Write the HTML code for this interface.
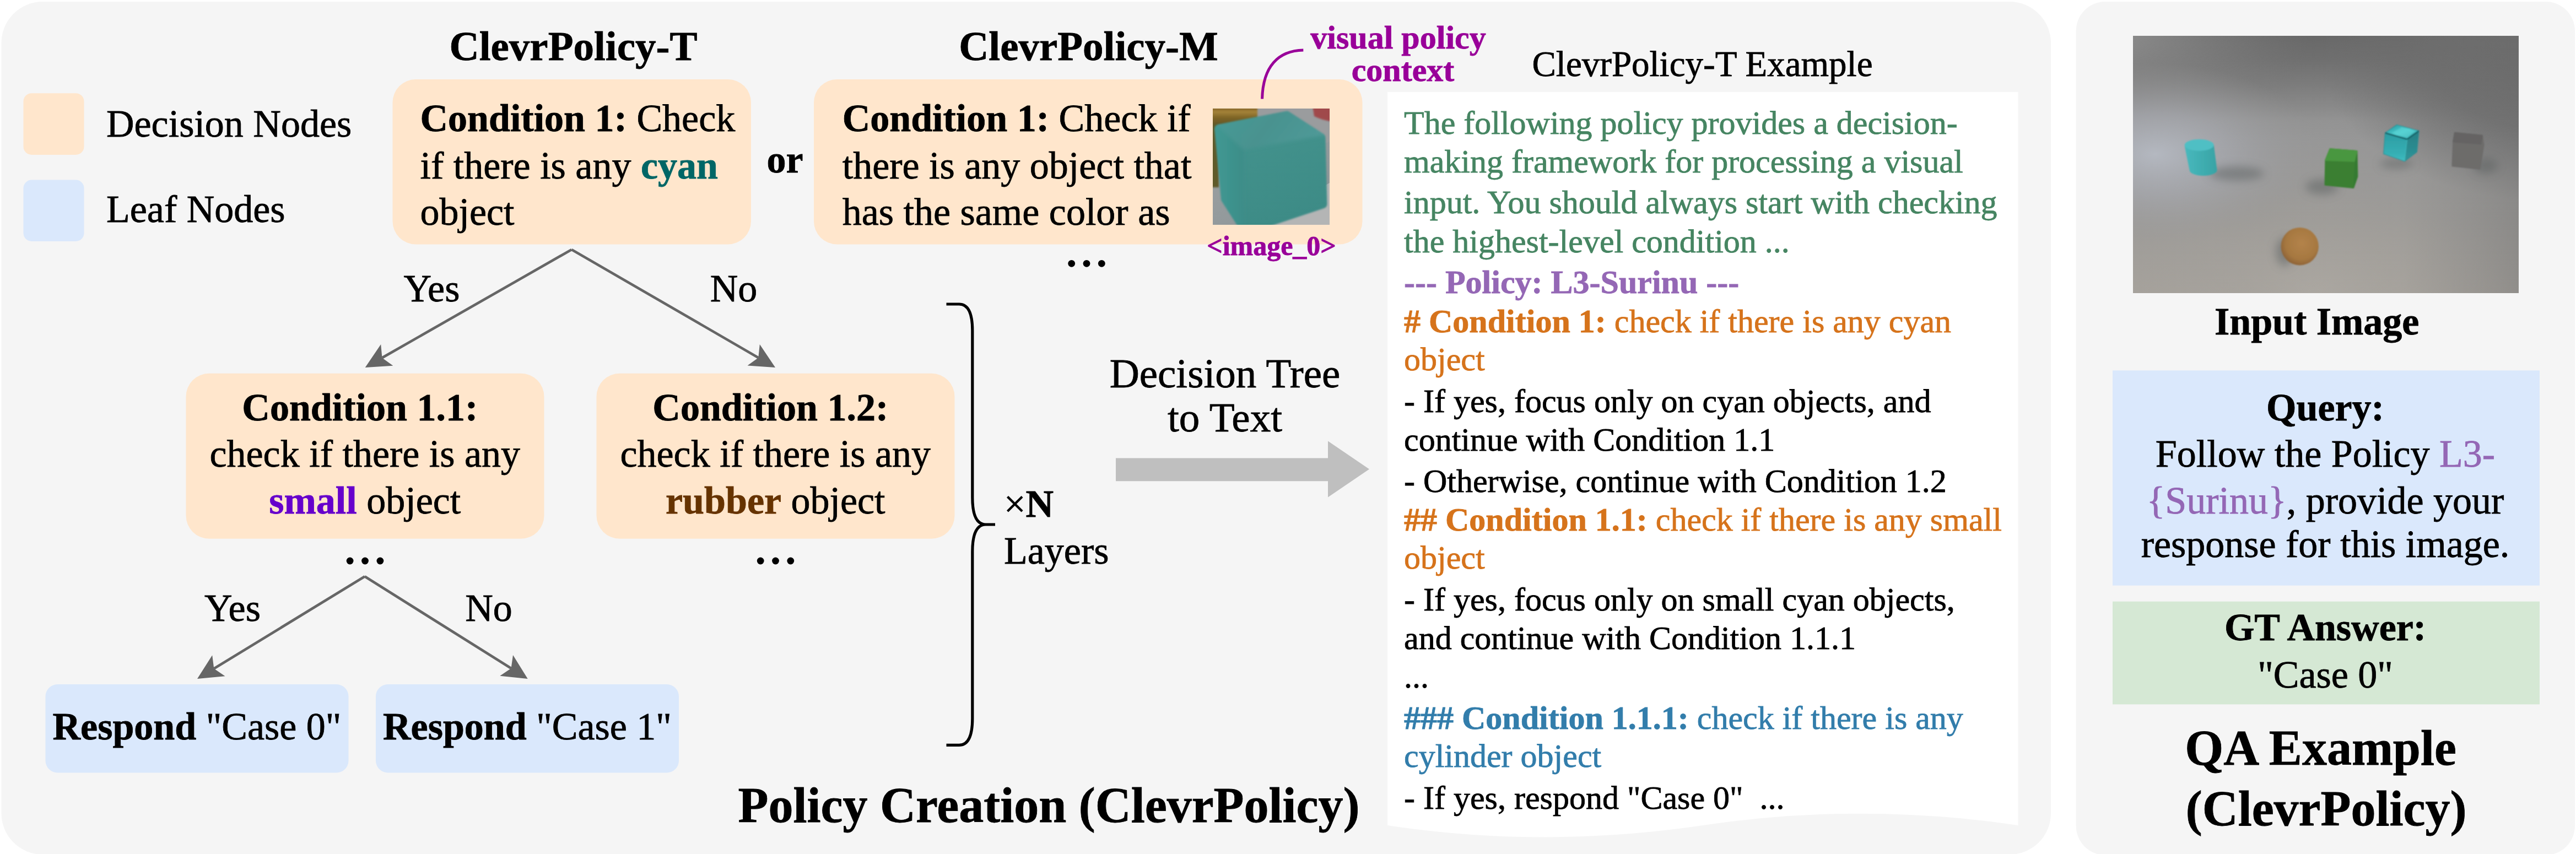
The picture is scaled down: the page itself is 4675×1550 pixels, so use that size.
<!DOCTYPE html>
<html><head><meta charset="utf-8"><title>ClevrPolicy</title>
<style>
html,body{margin:0;padding:0;background:#fff;}
body{width:4675px;height:1550px;overflow:hidden;}
svg{display:block;font-family:"Liberation Serif",serif;}
text{white-space:pre;}
</style></head><body>
<svg width="4675" height="1550" viewBox="0 0 4675 1550">
<rect x="2.5" y="3" width="3719.5" height="1548" rx="75" fill="#f5f5f5"/>
<rect x="3767.7" y="3" width="905.3" height="1549" rx="53" fill="#f5f5f5"/>
<rect x="42.5" y="169.2" width="110" height="111.7" rx="15" fill="#ffe6cc"/>
<rect x="42.5" y="326.6" width="110" height="111.3" rx="15" fill="#dae8fc"/>
<text x="193.0" y="247.8" font-size="70.00" text-anchor="start" fill="#000" stroke="#000" stroke-width="0.8" ><tspan>Decision Nodes</tspan></text>
<text x="193.0" y="403.0" font-size="70.00" text-anchor="start" fill="#000" stroke="#000" stroke-width="0.8" ><tspan>Leaf Nodes</tspan></text>
<text x="1040.5" y="108.5" font-size="75.00" text-anchor="middle" fill="#000" stroke="#000" stroke-width="0.8" ><tspan font-weight="bold">ClevrPolicy-T</tspan></text>
<text x="1975.5" y="108.5" font-size="75.00" text-anchor="middle" fill="#000" stroke="#000" stroke-width="0.8" ><tspan font-weight="bold">ClevrPolicy-M</tspan></text>
<rect x="712.5" y="144" width="650.5" height="299.5" rx="42" fill="#ffe6cc"/>
<text x="762.5" y="238.0" font-size="70.00" text-anchor="start" fill="#000" stroke="#000" stroke-width="0.8" ><tspan font-weight="bold">Condition 1: </tspan><tspan>Check</tspan></text>
<text x="762.5" y="324.0" font-size="70.00" text-anchor="start" fill="#000" stroke="#000" stroke-width="0.8" ><tspan>if there is any </tspan><tspan font-weight="bold" fill="#006666" stroke="#006666">cyan</tspan></text>
<text x="762.5" y="408.0" font-size="70.00" text-anchor="start" fill="#000" stroke="#000" stroke-width="0.8" ><tspan>object</tspan></text>
<text x="1424.5" y="313.0" font-size="70.00" text-anchor="middle" fill="#000" stroke="#000" stroke-width="0.8" ><tspan font-weight="bold">or</tspan></text>
<rect x="1477" y="144" width="995.5" height="299.5" rx="42" fill="#ffe6cc"/>
<text x="1528.7" y="238.0" font-size="70.00" text-anchor="start" fill="#000" stroke="#000" stroke-width="0.8" ><tspan font-weight="bold">Condition 1: </tspan><tspan>Check if</tspan></text>
<text x="1528.7" y="324.0" font-size="70.00" text-anchor="start" fill="#000" stroke="#000" stroke-width="0.8" ><tspan>there is any object that</tspan></text>
<text x="1528.7" y="408.0" font-size="70.00" text-anchor="start" fill="#000" stroke="#000" stroke-width="0.8" ><tspan>has the same color as</tspan></text>
<svg x="2201" y="197" width="212" height="211" viewBox="0 0 212 211" overflow="hidden">
<defs>
<filter id="cb1" x="-10%" y="-10%" width="120%" height="120%"><feGaussianBlur stdDeviation="1.4"/></filter><filter id="cb2" x="-10%" y="-10%" width="120%" height="120%"><feGaussianBlur stdDeviation="3"/></filter>
<linearGradient id="cfl" x1="0" y1="0" x2="1" y2="1"><stop offset="0" stop-color="#9da0a2"/><stop offset="1" stop-color="#8a9496"/></linearGradient>
<linearGradient id="ctop" x1="0" y1="0" x2="1" y2="0.3"><stop offset="0" stop-color="#46a09b"/><stop offset="0.6" stop-color="#48928f"/><stop offset="1" stop-color="#509a98"/></linearGradient>
<linearGradient id="cfr" x1="0" y1="0" x2="0.3" y2="1"><stop offset="0" stop-color="#45958f"/><stop offset="1" stop-color="#3d8b86"/></linearGradient>
<linearGradient id="clf" x1="0" y1="0" x2="1" y2="0"><stop offset="0" stop-color="#43a09a"/><stop offset="1" stop-color="#3c8d88"/></linearGradient>
<linearGradient id="gold" x1="0" y1="0" x2="0" y2="1"><stop offset="0" stop-color="#6b4f17"/><stop offset="0.3" stop-color="#a5833a"/><stop offset="0.6" stop-color="#7d6426"/><stop offset="1" stop-color="#5f5424"/></linearGradient>
</defs>
<rect width="212" height="211" fill="#9a9c9e"/>
<polygon points="0,140 212,60 212,211 0,211" fill="url(#cfl)"/>
<polygon points="70,211 212,135 212,211" fill="#b4b5b5"/>
<g filter="url(#cb1)">
<rect x="-5" y="-5" width="86" height="36" fill="url(#gold)"/>
<rect x="-5" y="28" width="16" height="115" fill="#5f5a2a"/>
<path d="M181 -5 H220 V24 Q200 22 184 14 Z" fill="#a0484b"/>
</g>
<mask id="cmask" maskUnits="userSpaceOnUse" x="-10" y="-10" width="240" height="240">
<polygon points="11.5,37 134,13 196,53 199,173 100,206 62,224 23.5,164" fill="#fff" stroke="#fff" stroke-width="17" stroke-linejoin="round" filter="url(#cb1)"/>
</mask>
<g mask="url(#cmask)">
<rect x="-10" y="-10" width="240" height="240" fill="url(#cfr)"/>
<g filter="url(#cb2)">
<polygon points="-30,-5 5.6,29.5 56,74.5 56,240 -30,240" fill="url(#clf)"/>
<polygon points="-30,-30 240,-30 240,41 205,47.8 56,74.5 5.6,29.5 -30,-5" fill="url(#ctop)"/>
</g>
</g>
</svg>
<text x="2307.5" y="462.8" font-size="50.00" text-anchor="middle" fill="#990099" stroke="#990099" stroke-width="0.8" ><tspan font-weight="bold">&lt;image_0&gt;</tspan></text>
<text x="2537.5" y="88.0" font-size="60.00" text-anchor="middle" fill="#990099" stroke="#990099" stroke-width="0.8" ><tspan font-weight="bold">visual policy</tspan></text>
<text x="2546.0" y="146.5" font-size="60.00" text-anchor="middle" fill="#990099" stroke="#990099" stroke-width="0.8" ><tspan font-weight="bold">context</tspan></text>
<path d="M2290.6 179.5 C2292 120 2320 92 2365.3 91" fill="none" stroke="#990099" stroke-width="5"/>
<circle cx="1944.7" cy="478.3" r="6.4" fill="#000"/>
<circle cx="1972.0" cy="478.3" r="6.4" fill="#000"/>
<circle cx="1999.3" cy="478.3" r="6.4" fill="#000"/>
<circle cx="635.1" cy="1018.0" r="6.4" fill="#000"/>
<circle cx="662.5" cy="1018.0" r="6.4" fill="#000"/>
<circle cx="689.9" cy="1018.0" r="6.4" fill="#000"/>
<circle cx="1380.2" cy="1018.0" r="6.4" fill="#000"/>
<circle cx="1407.5" cy="1018.0" r="6.4" fill="#000"/>
<circle cx="1434.8" cy="1018.0" r="6.4" fill="#000"/>
<line x1="1037.4" y1="453.0" x2="693.5" y2="649.4" stroke="#666666" stroke-width="4.7"/>
<path d="M662.7 667.0 L691.2 625.1 L693.5 649.4 L713.3 663.8 Z" fill="#666666"/>
<line x1="1037.4" y1="453.0" x2="1376.3" y2="649.2" stroke="#666666" stroke-width="4.7"/>
<path d="M1407.0 667.0 L1356.5 663.5 L1376.3 649.2 L1378.8 624.9 Z" fill="#666666"/>
<line x1="662.0" y1="1046.3" x2="388.3" y2="1213.5" stroke="#666666" stroke-width="4.7"/>
<path d="M358.0 1232.0 L385.2 1189.3 L388.3 1213.5 L408.5 1227.3 Z" fill="#666666"/>
<line x1="662.0" y1="1046.3" x2="927.6" y2="1213.1" stroke="#666666" stroke-width="4.7"/>
<path d="M957.7 1232.0 L907.3 1226.7 L927.6 1213.1 L931.0 1188.9 Z" fill="#666666"/>
<text x="783.5" y="547.0" font-size="70.00" text-anchor="middle" fill="#000" stroke="#000" stroke-width="0.8" ><tspan>Yes</tspan></text>
<text x="1331.5" y="547.0" font-size="70.00" text-anchor="middle" fill="#000" stroke="#000" stroke-width="0.8" ><tspan>No</tspan></text>
<text x="422.0" y="1127.0" font-size="70.00" text-anchor="middle" fill="#000" stroke="#000" stroke-width="0.8" ><tspan>Yes</tspan></text>
<text x="887.0" y="1127.0" font-size="70.00" text-anchor="middle" fill="#000" stroke="#000" stroke-width="0.8" ><tspan>No</tspan></text>
<rect x="337.5" y="677.8" width="650" height="300" rx="42" fill="#ffe6cc"/>
<rect x="1082.5" y="677.8" width="650" height="300" rx="42" fill="#ffe6cc"/>
<text x="653.3" y="762.5" font-size="70.00" text-anchor="middle" fill="#000" stroke="#000" stroke-width="0.8" ><tspan font-weight="bold">Condition 1.1:</tspan></text>
<text x="662.3" y="847.3" font-size="70.00" text-anchor="middle" fill="#000" stroke="#000" stroke-width="0.8" ><tspan>check if there is any</tspan></text>
<text x="662.3" y="932.3" font-size="70.00" text-anchor="middle" fill="#000" stroke="#000" stroke-width="0.8" ><tspan font-weight="bold" fill="#6600cc" stroke="#6600cc">small</tspan><tspan> object</tspan></text>
<text x="1398.3" y="762.5" font-size="70.00" text-anchor="middle" fill="#000" stroke="#000" stroke-width="0.8" ><tspan font-weight="bold">Condition 1.2:</tspan></text>
<text x="1407.3" y="847.3" font-size="70.00" text-anchor="middle" fill="#000" stroke="#000" stroke-width="0.8" ><tspan>check if there is any</tspan></text>
<text x="1407.3" y="932.3" font-size="70.00" text-anchor="middle" fill="#000" stroke="#000" stroke-width="0.8" ><tspan font-weight="bold" fill="#663300" stroke="#663300">rubber</tspan><tspan> object</tspan></text>
<rect x="82.5" y="1242" width="550" height="160.5" rx="22" fill="#dae8fc"/>
<rect x="682" y="1242" width="550" height="160.5" rx="22" fill="#dae8fc"/>
<text x="357.5" y="1342.0" font-size="70.00" text-anchor="middle" fill="#000" stroke="#000" stroke-width="0.8" ><tspan font-weight="bold">Respond </tspan><tspan>"Case 0"</tspan></text>
<text x="957.0" y="1342.0" font-size="70.00" text-anchor="middle" fill="#000" stroke="#000" stroke-width="0.8" ><tspan font-weight="bold">Respond </tspan><tspan>"Case 1"</tspan></text>
<path d="M1717.5 552 H1740.7 Q1764.8 552 1764.8 600 V903 Q1764.8 952 1789 952 H1806 M1789 952 Q1764.8 952 1764.8 1001 V1304 Q1764.8 1352.4 1740.7 1352.4 H1717.5" fill="none" stroke="#000" stroke-width="5.2"/>
<text x="1822.0" y="938.0" font-size="70.00" text-anchor="start" fill="#000" stroke="#000" stroke-width="0.8" ><tspan>×</tspan><tspan font-weight="bold">N</tspan></text>
<text x="1822.0" y="1022.5" font-size="70.00" text-anchor="start" fill="#000" stroke="#000" stroke-width="0.8" ><tspan>Layers</tspan></text>
<text x="2223.0" y="703.0" font-size="75.00" text-anchor="middle" fill="#000" stroke="#000" stroke-width="0.8" ><tspan>Decision Tree</tspan></text>
<text x="2223.0" y="783.0" font-size="75.00" text-anchor="middle" fill="#000" stroke="#000" stroke-width="0.8" ><tspan>to Text</tspan></text>
<path d="M2025 831.5 H2410 V800.5 L2485 851.5 L2410 902.5 V873.2 H2025 Z" fill="#bfbfbf"/>
<text x="1903.5" y="1492.0" font-size="90.00" text-anchor="middle" fill="#000" stroke="#000" stroke-width="0.8" ><tspan font-weight="bold">Policy Creation (ClevrPolicy)</tspan></text>
<text x="3089.5" y="138.0" font-size="65.00" text-anchor="middle" fill="#000" stroke="#000" stroke-width="0.8" ><tspan>ClevrPolicy-T Example</tspan></text>
<path d="M2518.0 167.0 H3662.5 V1498.0 Q3376.4 1455.3 3090.2 1498.0 Q2804.1 1540.8 2518.0 1498.0 Z" fill="#fff"/>
<text x="2548.0" y="243.0" font-size="60.00" text-anchor="start" fill="#468562" stroke="#468562" stroke-width="0.8" xml:space="preserve"><tspan>The following policy provides a decision-</tspan></text>
<text x="2548.0" y="313.2" font-size="60.00" text-anchor="start" fill="#468562" stroke="#468562" stroke-width="0.8" xml:space="preserve"><tspan>making framework for processing a visual</tspan></text>
<text x="2548.0" y="387.2" font-size="60.00" text-anchor="start" fill="#468562" stroke="#468562" stroke-width="0.8" xml:space="preserve"><tspan>input. You should always start with checking</tspan></text>
<text x="2548.0" y="457.8" font-size="60.00" text-anchor="start" fill="#468562" stroke="#468562" stroke-width="0.8" xml:space="preserve"><tspan>the highest-level condition ...</tspan></text>
<text x="2548.0" y="532.3" font-size="60.00" text-anchor="start" fill="#9467b5" stroke="#9467b5" stroke-width="0.8" xml:space="preserve"><tspan font-weight="bold">--- Policy: L3-Surinu ---</tspan></text>
<text x="2548.0" y="603.0" font-size="60.00" text-anchor="start" fill="#d6731b" stroke="#d6731b" stroke-width="0.8" xml:space="preserve"><tspan font-weight="bold"># Condition 1: </tspan><tspan>check if there is any cyan</tspan></text>
<text x="2548.0" y="672.2" font-size="60.00" text-anchor="start" fill="#d6731b" stroke="#d6731b" stroke-width="0.8" xml:space="preserve"><tspan>object</tspan></text>
<text x="2548.0" y="747.8" font-size="60.00" text-anchor="start" fill="#000" stroke="#000" stroke-width="0.8" xml:space="preserve"><tspan>- If yes, focus only on cyan objects, and</tspan></text>
<text x="2548.0" y="818.0" font-size="60.00" text-anchor="start" fill="#000" stroke="#000" stroke-width="0.8" xml:space="preserve"><tspan>continue with Condition 1.1</tspan></text>
<text x="2548.0" y="893.0" font-size="60.00" text-anchor="start" fill="#000" stroke="#000" stroke-width="0.8" xml:space="preserve"><tspan>- Otherwise, continue with Condition 1.2</tspan></text>
<text x="2548.0" y="962.8" font-size="60.00" text-anchor="start" fill="#d6731b" stroke="#d6731b" stroke-width="0.8" xml:space="preserve"><tspan font-weight="bold">## Condition 1.1: </tspan><tspan>check if there is any small</tspan></text>
<text x="2548.0" y="1032.2" font-size="60.00" text-anchor="start" fill="#d6731b" stroke="#d6731b" stroke-width="0.8" xml:space="preserve"><tspan>object</tspan></text>
<text x="2548.0" y="1107.5" font-size="60.00" text-anchor="start" fill="#000" stroke="#000" stroke-width="0.8" xml:space="preserve"><tspan>- If yes, focus only on small cyan objects,</tspan></text>
<text x="2548.0" y="1178.0" font-size="60.00" text-anchor="start" fill="#000" stroke="#000" stroke-width="0.8" xml:space="preserve"><tspan>and continue with Condition 1.1.1</tspan></text>
<text x="2548.0" y="1247.8" font-size="60.00" text-anchor="start" fill="#000" stroke="#000" stroke-width="0.8" xml:space="preserve"><tspan>...</tspan></text>
<text x="2548.0" y="1322.6" font-size="60.00" text-anchor="start" fill="#327dab" stroke="#327dab" stroke-width="0.8" xml:space="preserve"><tspan font-weight="bold">### Condition 1.1.1: </tspan><tspan>check if there is any</tspan></text>
<text x="2548.0" y="1392.0" font-size="60.00" text-anchor="start" fill="#327dab" stroke="#327dab" stroke-width="0.8" xml:space="preserve"><tspan>cylinder object</tspan></text>
<text x="2548.0" y="1467.8" font-size="60.00" text-anchor="start" fill="#000" stroke="#000" stroke-width="0.8" xml:space="preserve"><tspan>- If yes, respond "Case 0"  ...</tspan></text>
<svg x="3871" y="65" width="700" height="467" viewBox="0 0 700 467" overflow="hidden">
<defs>
<filter id="sb1" x="-20%" y="-20%" width="140%" height="140%"><feGaussianBlur stdDeviation="1.3"/></filter>
<filter id="sb2" x="-50%" y="-50%" width="200%" height="200%"><feGaussianBlur stdDeviation="8"/></filter>
<linearGradient id="bgv" x1="0" y1="0" x2="0" y2="1">
 <stop offset="0" stop-color="#686868"/><stop offset="0.09" stop-color="#6f6f6f"/><stop offset="0.19" stop-color="#7c7c7c"/><stop offset="0.28" stop-color="#8a8a8a"/><stop offset="0.33" stop-color="#939393"/><stop offset="0.41" stop-color="#979797"/><stop offset="0.72" stop-color="#9d9b98"/><stop offset="1" stop-color="#a6a29c"/></linearGradient>
<radialGradient id="tlite" cx="-40" cy="0" r="360" gradientUnits="userSpaceOnUse" gradientTransform="translate(-40 0) scale(1 0.5) translate(40 0)">
 <stop offset="0" stop-color="#8e8e8e" stop-opacity="1"/><stop offset="1" stop-color="#808080" stop-opacity="0"/></radialGradient>
<radialGradient id="rtdark" cx="760" cy="40" r="420" gradientUnits="userSpaceOnUse" gradientTransform="translate(760 40) scale(1 0.62) translate(-760 -40)">
 <stop offset="0" stop-color="#686868" stop-opacity="1"/><stop offset="0.5" stop-color="#6c6c6c" stop-opacity="0.85"/><stop offset="1" stop-color="#707070" stop-opacity="0"/></radialGradient>
<radialGradient id="lspot" cx="40" cy="215" r="300" gradientUnits="userSpaceOnUse" gradientTransform="translate(40 215) scale(1 0.55) translate(-40 -215)">
 <stop offset="0" stop-color="#b4b8c0" stop-opacity="1"/><stop offset="0.45" stop-color="#a6a8ae" stop-opacity="0.7"/><stop offset="1" stop-color="#999" stop-opacity="0"/></radialGradient>
<radialGradient id="bspot" cx="330" cy="470" r="330" gradientUnits="userSpaceOnUse" gradientTransform="translate(330 470) scale(1 0.6) translate(-330 -470)">
 <stop offset="0" stop-color="#aba7a1" stop-opacity="1"/><stop offset="1" stop-color="#a09d98" stop-opacity="0"/></radialGradient>
<linearGradient id="rdark" x1="0" y1="0" x2="1" y2="0"><stop offset="0.7" stop-color="#777" stop-opacity="0"/><stop offset="1" stop-color="#707070" stop-opacity="0.4"/></linearGradient>
<radialGradient id="sph" cx="0.55" cy="0.42" r="0.6"><stop offset="0" stop-color="#b3834a"/><stop offset="0.7" stop-color="#a67841"/><stop offset="1" stop-color="#8d6236"/></radialGradient>
<linearGradient id="cyl" x1="0" y1="0" x2="1" y2="0"><stop offset="0" stop-color="#48b9bd"/><stop offset="1" stop-color="#38a3a5"/></linearGradient>
<linearGradient id="mtop" x1="0" y1="0" x2="1" y2="1"><stop offset="0" stop-color="#1d8f96"/><stop offset="0.5" stop-color="#4fd0d2"/><stop offset="1" stop-color="#238f95"/></linearGradient>
<linearGradient id="mright" x1="0" y1="0" x2="0" y2="1"><stop offset="0" stop-color="#267f84"/><stop offset="1" stop-color="#2f9499"/></linearGradient>
<linearGradient id="mleft" x1="0" y1="0" x2="0" y2="1"><stop offset="0" stop-color="#2c9ca2"/><stop offset="0.75" stop-color="#36b0b5"/><stop offset="1" stop-color="#3fbcc0"/></linearGradient>
</defs>
<rect width="700" height="467" fill="url(#bgv)"/>
<rect width="700" height="467" fill="url(#tlite)"/>
<rect width="700" height="467" fill="url(#lspot)"/>
<rect width="700" height="467" fill="url(#bspot)"/>
<rect width="700" height="467" fill="url(#rtdark)"/>
<rect width="700" height="467" fill="url(#rdark)"/>
<!-- shadows -->
<g filter="url(#sb2)" fill="#5c6060" opacity="0.5">
<ellipse cx="188" cy="250" rx="50" ry="13"/>
<ellipse cx="343" cy="274" rx="30" ry="14"/>
<ellipse cx="478" cy="232" rx="30" ry="9"/>
<ellipse cx="640" cy="236" rx="22" ry="14"/>
<ellipse cx="275" cy="392" rx="16" ry="26"/>
</g>
<g filter="url(#sb1)">
<!-- cylinder -->
<path d="M93.7 200 L102.6 244 A25 10 0 0 0 152.6 244 L146.7 198 Z" fill="url(#cyl)"/>
<ellipse cx="120.2" cy="198.3" rx="26.5" ry="10.5" fill="#50bfc4"/>
<!-- green cube -->
<polygon points="357.8,205.8 406,209.4 406.9,255.4 399.9,275.6 349,270.3 349.9,225.5" fill="#3b7f33" stroke="#3b7f33" stroke-width="3" stroke-linejoin="round"/>
<polygon points="357.8,205.8 406,209.4 402.5,227.3 349.9,225.5" fill="#4a973f" stroke="#4a973f" stroke-width="3" stroke-linejoin="round"/>
<polygon points="402.5,229 406.5,212 406.9,255.4 399.9,275.6" fill="#357a30"/>
<!-- metal cyan cube -->
<polygon points="478.9,161.9 518.5,172.8 514.9,210.6 493,227.3 455.2,214.1 457.9,176.3" fill="#2b8d92" stroke="#2b8d92" stroke-width="2" stroke-linejoin="round"/>
<polygon points="457.9,176.3 497.4,187.8 493,227.3 455.2,214.1" fill="url(#mleft)"/>
<polygon points="497.4,187.8 518.5,172.8 514.9,210.6 493,227.3" fill="url(#mright)"/>
<polygon points="478.9,161.9 518.5,172.8 497.4,187.8 457.9,176.3" fill="url(#mtop)"/>
<polygon points="488,166 512,173 497.4,185 470,176" fill="#5fd6d6" opacity="0.55"/>
<polyline points="457.9,176.3 497.4,187.8 518.5,172.8" fill="none" stroke="#135e64" stroke-width="2.6" stroke-linejoin="round"/>
<line x1="497.4" y1="188" x2="493" y2="227" stroke="#46c4c6" stroke-width="1.5" opacity="0.6"/>
<!-- gray cube -->
<polygon points="584.3,176.3 633.5,181.3 636.1,198.3 629.1,241.3 579.9,236.1 581.7,192.1" fill="#6d6c6a" stroke="#6d6c6a" stroke-width="3" stroke-linejoin="round"/>
<polygon points="584.3,176.3 633.5,181.3 630.9,195.7 581.7,192.1" fill="#656463" stroke="#656463" stroke-width="3" stroke-linejoin="round"/>
<!-- sphere -->
<circle cx="302.7" cy="382.2" r="34.2" fill="url(#sph)"/>
</g>
</svg>
<text x="4204.7" y="606.7" font-size="70.00" text-anchor="middle" fill="#000" stroke="#000" stroke-width="0.8" ><tspan font-weight="bold">Input Image</tspan></text>
<rect x="3834" y="672.4" width="775" height="390.3" fill="#dae8fc"/>
<text x="4220.0" y="763.3" font-size="70.00" text-anchor="middle" fill="#000" stroke="#000" stroke-width="0.8" ><tspan font-weight="bold">Query:</tspan></text>
<text x="4220.0" y="846.8" font-size="70.00" text-anchor="middle" fill="#000" stroke="#000" stroke-width="0.8" ><tspan>Follow the Policy </tspan><tspan fill="#9467b5" stroke="#9467b5">L3-</tspan></text>
<text x="4220.0" y="931.8" font-size="70.00" text-anchor="middle" fill="#000" stroke="#000" stroke-width="0.8" ><tspan fill="#9467b5" stroke="#9467b5">{Surinu}</tspan><tspan>, provide your</tspan></text>
<text x="4220.0" y="1011.3" font-size="70.00" text-anchor="middle" fill="#000" stroke="#000" stroke-width="0.8" ><tspan>response for this image.</tspan></text>
<rect x="3834" y="1091.7" width="775" height="186.7" fill="#d5e8d4"/>
<text x="4220.0" y="1162.4" font-size="70.00" text-anchor="middle" fill="#000" stroke="#000" stroke-width="0.8" ><tspan font-weight="bold">GT Answer:</tspan></text>
<text x="4220.0" y="1248.0" font-size="70.00" text-anchor="middle" fill="#000" stroke="#000" stroke-width="0.8" ><tspan>"Case 0"</tspan></text>
<text x="4211.6" y="1387.6" font-size="90.00" text-anchor="middle" fill="#000" stroke="#000" stroke-width="0.8" ><tspan font-weight="bold">QA Example</tspan></text>
<text x="4221.6" y="1498.0" font-size="90.00" text-anchor="middle" fill="#000" stroke="#000" stroke-width="0.8" ><tspan font-weight="bold">(ClevrPolicy)</tspan></text>
</svg>
</body></html>
